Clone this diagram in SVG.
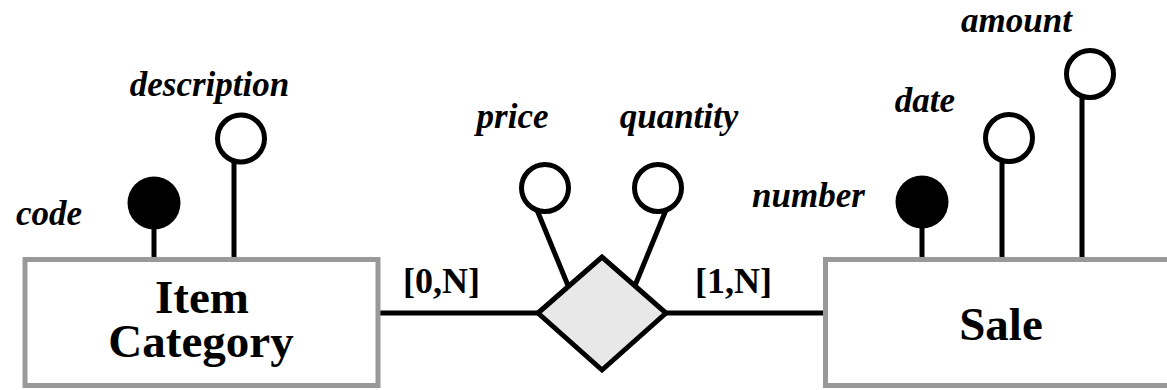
<svg xmlns="http://www.w3.org/2000/svg" width="1167" height="390" viewBox="0 0 1167 390">
<style>
.ent{fill:#fff;stroke:#999;stroke-width:5}
.ln{stroke:#000;stroke-width:5;fill:none}
.key{fill:#000;stroke:none}
.att{fill:#fff;stroke:#000;stroke-width:5}
.rel{fill:#e8e8e8;stroke:#000;stroke-width:5;stroke-linejoin:miter}
text{font-family:'Liberation Serif','Times New Roman','DejaVu Serif',serif;fill:#000;text-anchor:middle;font-weight:bold}
.lab{font-style:italic;font-size:35px}
.card{font-size:36px}
.name{font-size:47px}
</style>
<rect width="1167" height="390" fill="#fff"/>
<g id="connectors">
<line class="ln" x1="378" y1="313" x2="540" y2="313"/>
<line class="ln" x1="664" y1="313" x2="826" y2="313"/>
<line class="ln" x1="154" y1="220" x2="154" y2="258"/>
<line class="ln" x1="234" y1="160" x2="234" y2="258"/>
<line class="ln" x1="922" y1="220" x2="922" y2="258"/>
<line class="ln" x1="1002" y1="160" x2="1002" y2="258"/>
<line class="ln" x1="1082" y1="96" x2="1082" y2="258"/>
<line class="ln" x1="537" y1="210" x2="569" y2="288"/>
<line class="ln" x1="666" y1="210" x2="634" y2="288"/>
</g>
<g id="item-category">
<rect class="ent" x="25" y="259.5" width="353" height="126"/>
<text class="name" x="202" y="313" font-family="Liberation Serif, serif">Item</text>
<text class="name" x="201" y="357" font-family="Liberation Serif, serif">Category</text>
</g>
<g id="attr-code">
<circle class="key" cx="154" cy="203" r="26.5"/>
<text class="lab" x="49" y="225">code</text>
</g>
<g id="attr-description">
<circle class="att" cx="241" cy="138.5" r="23.5"/>
<text class="lab" x="209.5" y="96">description</text>
</g>
<g id="relationship">
<polygon class="rel" points="538,313 602,257 666,313 602,370"/>
</g>
<g id="attr-price">
<circle class="att" cx="545" cy="188" r="23.5"/>
<text class="lab" x="512.5" y="128">price</text>
</g>
<g id="attr-quantity">
<circle class="att" cx="658" cy="188" r="23.5"/>
<text class="lab" x="679" y="128">quantity</text>
</g>
<g id="card-left"><text class="card" x="441.5" y="293">[0,N]</text></g>
<g id="card-right"><text class="card" x="733.5" y="293">[1,N]</text></g>
<g id="sale">
<rect class="ent" x="825.5" y="259.5" width="353" height="126"/>
<text class="name" x="1001" y="340">Sale</text>
</g>
<g id="attr-number">
<circle class="key" cx="922" cy="202" r="26.5"/>
<text class="lab" x="808.5" y="207">number</text>
</g>
<g id="attr-date">
<circle class="att" cx="1009" cy="138" r="23.5"/>
<text class="lab" x="925" y="112">date</text>
</g>
<g id="attr-amount">
<circle class="att" cx="1090" cy="74" r="23.5"/>
<text class="lab" x="1016.5" y="32">amount</text>
</g>
</svg>
